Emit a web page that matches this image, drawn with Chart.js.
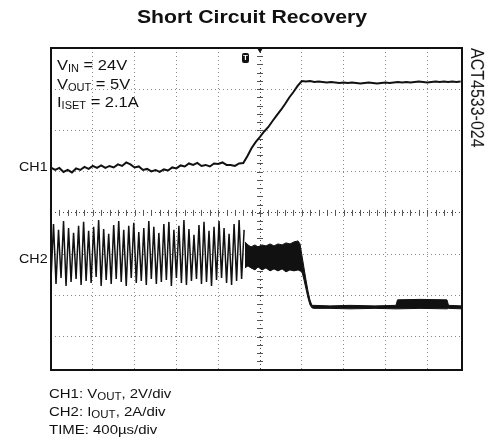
<!DOCTYPE html>
<html>
<head>
<meta charset="utf-8">
<script src="https://cdn.jsdelivr.net/npm/chart.js@4/dist/chart.umd.min.js"></script>
<style>
  html, body { margin: 0; padding: 0; background: #fff; }
  #wrap { position: relative; width: 492px; height: 443px; overflow: hidden; }
  #c { position: absolute; left: 0; top: 0; }
  .t { position: absolute; white-space: nowrap; font-family: "Liberation Sans", Arial, sans-serif; color: #111; transform-origin: 0 0; }
  .sub { font-size: 10px; position: relative; top: 2px; }
</style>
</head>
<body>
<div id="wrap">
  <canvas id="c" width="492" height="443"></canvas>
  <div class="t" style="left:6px;width:492px;text-align:center;top:8px;font-size:18px;line-height:18px;font-weight:bold;transform:scaleX(1.18);transform-origin:50% 0;">Short Circuit Recovery</div>
  <div class="t" style="left:57px;top:57px;font-size:15px;line-height:15px;transform:scaleX(1.1);">V<span class="sub">IN</span> = 24V</div>
  <div class="t" style="left:57px;top:75.5px;font-size:15px;line-height:15px;transform:scaleX(1.1);">V<span class="sub">OUT</span> = 5V</div>
  <div class="t" style="left:57px;top:94px;font-size:15px;line-height:15px;transform:scaleX(1.1);">I<span class="sub">ISET</span> = 2.1A</div>
  <div class="t" style="left:19px;top:160px;font-size:13px;line-height:13px;transform:scaleX(1.1);">CH1</div>
  <div class="t" style="left:19px;top:252px;font-size:13px;line-height:13px;transform:scaleX(1.1);">CH2</div>
  <div class="t" style="left:49px;top:387px;font-size:13px;line-height:13px;transform:scaleX(1.15);">CH1: V<span class="sub">OUT</span>, 2V/div</div>
  <div class="t" style="left:49px;top:405px;font-size:13px;line-height:13px;transform:scaleX(1.15);">CH2: I<span class="sub">OUT</span>, 2A/div</div>
  <div class="t" style="left:49px;top:423px;font-size:13px;line-height:13px;transform:scaleX(1.15);">TIME: 400µs/div</div>
  <div class="t" style="left:484.5px;top:48px;font-size:16px;line-height:16px;transform:rotate(90deg) scaleY(1.1);">ACT4533-024</div>
  <div class="t" style="left:242px;top:53px;width:7px;height:10px;background:#111;border-radius:2px;color:#fff;font-size:8px;line-height:10px;font-weight:bold;text-align:center;">T</div>
</div>
<script>
// time base (µs) and graticule
const xGridUs = [-1600, -1200, -800, -400, 0, 400, 800, 1200, 1600];
const yGridDiv = [-3, -2, -1, 0, 1, 2, 3];
const xMinUs = -2000, xMaxUs = 1933;
const yMinDiv = -3.81, yMaxDiv = 4;

// CH1: V_OUT (divisions), sampled every 40 µs from -2000 µs
const ch1Start = -2000, ch1Step = 40;
const ch1Div = [
  1.098, 1.042, 1.091, 0.994, 1.042, 0.982, 1.079, 1.042, 1.115, 1.067,
  1.139, 1.091, 1.152, 1.091, 1.139, 1.103, 1.176, 1.139, 1.224, 1.176,
  1.103, 1.127, 1.042, 1.067, 1.006, 1.042, 0.994, 1.055, 1.030, 1.103,
  1.079, 1.152, 1.127, 1.200, 1.164, 1.212, 1.139, 1.164, 1.127, 1.200,
  1.188, 1.224, 1.164, 1.164, 1.139, 1.200, 1.212,
  1.382, 1.576, 1.721, 1.842, 1.976, 2.085, 2.230, 2.364, 2.497, 2.642,
  2.800, 2.933, 3.079, 3.200,
  3.188, 3.200, 3.176, 3.188, 3.176, 3.164, 3.176, 3.164, 3.152, 3.164,
  3.152, 3.164, 3.152, 3.139, 3.152, 3.164, 3.152, 3.139, 3.152, 3.164,
  3.152, 3.164, 3.176, 3.164, 3.176, 3.164, 3.176, 3.188, 3.176, 3.164,
  3.176, 3.188, 3.176, 3.188, 3.176, 3.188, 3.176, 3.188
];

// CH2: I_OUT hiccup ripple (divisions), sampled every 24 µs from -2000 µs
const ch2Start = -2000, ch2Step = 24;
const ch2SawDiv = [
  -1.624, -0.267, -1.721, -0.412, -1.576, -0.194, -1.770, -0.364, -1.673, -0.485,
  -1.600, -0.315, -1.745, -0.218, -1.648, -0.436, -1.697, -0.339, -1.552, -0.170,
  -1.770, -0.388, -1.624, -0.509, -1.721, -0.291, -1.600, -0.194, -1.673, -0.412,
  -1.770, -0.315, -1.576, -0.242, -1.697, -0.461, -1.648, -0.364, -1.745, -0.194,
  -1.600, -0.339, -1.721, -0.485, -1.673, -0.267, -1.624, -0.218, -1.770, -0.412,
  -1.576, -0.315, -1.697, -0.170, -1.745, -0.388, -1.648, -0.533, -1.600, -0.291,
  -1.721, -0.218, -1.673, -0.436, -1.770, -0.339, -1.624, -0.194, -1.576, -0.364,
  -1.697, -0.509, -1.745, -0.267, -1.648, -0.170, -1.600, -0.412
];

// CH2 dense switching band: envelope (µs, divisions)
const ch2BandTime = [-144, -115, -86, -48, -19, 19, 57, 96, 134, 172,
  211, 249, 287, 325, 364, 383, 402, 421, 440, 459,
  478, 497, 517, 670, 861, 1100, 1301, 1316, 1531, 1789, 1804, 1933];
const ch2BandHigh = [-0.703, -0.776, -0.824, -0.776, -0.824, -0.776, -0.800, -0.752, -0.800, -0.752,
  -0.776, -0.727, -0.752, -0.703, -0.679, -0.752, -1.042, -1.333, -1.624, -1.891,
  -2.109, -2.242, -2.242, -2.255, -2.242, -2.255, -2.242, -2.109, -2.097, -2.109, -2.242, -2.255];
const ch2BandLow = [-1.333, -1.285, -1.333, -1.382, -1.309, -1.382, -1.333, -1.406, -1.358, -1.406,
  -1.358, -1.430, -1.382, -1.406, -1.382, -1.406, -1.430, -1.624, -1.842, -2.061,
  -2.230, -2.303, -2.315, -2.315, -2.327, -2.315, -2.327, -2.327, -2.315, -2.327, -2.315, -2.327];

const INK = '#111';

const ch1Points = ch1Div.map((v, i) => ({ x: ch1Start + i * ch1Step, y: v }));
const ch2SawPoints = ch2SawDiv.map((v, i) => ({ x: ch2Start + i * ch2Step, y: v }));
const ch2HighPoints = ch2BandTime.map((t, i) => ({ x: t, y: ch2BandHigh[i] }));
const ch2LowPoints = ch2BandTime.map((t, i) => ({ x: t, y: ch2BandLow[i] }));

const scopePlugin = {
  id: 'scope',
  beforeDatasetsDraw(chart) {
    const { ctx, scales: { x, y } } = chart;
    const cx = x.getPixelForValue(0), cy = y.getPixelForValue(0);
    ctx.save();
    ctx.strokeStyle = '#555';
    ctx.lineWidth = 1;
    // minor tick marks on the centre axes (0.2 div)
    for (let v = -3.8; v <= 4.001; v += 0.2) {
      const py = Math.round(y.getPixelForValue(v)) + 0.5;
      ctx.beginPath(); ctx.moveTo(cx - 3, py); ctx.lineTo(cx + 3, py); ctx.stroke();
    }
    for (let t = -2000; t <= 1933; t += 80) {
      const px = Math.round(x.getPixelForValue(t)) + 0.5;
      ctx.beginPath(); ctx.moveTo(px, cy - 3); ctx.lineTo(px, cy + 3); ctx.stroke();
    }
    ctx.restore();
  },
  afterDatasetsDraw(chart) {
    const { ctx, chartArea: a, scales: { x } } = chart;
    ctx.save();
    ctx.strokeStyle = INK;
    ctx.lineWidth = 2;
    ctx.strokeRect(a.left, a.top, a.right - a.left, a.bottom - a.top);
    // trigger position marker
    const cx = x.getPixelForValue(0);
    ctx.fillStyle = INK;
    ctx.beginPath();
    ctx.moveTo(cx - 3, a.top); ctx.lineTo(cx + 3, a.top); ctx.lineTo(cx, a.top + 5); ctx.closePath();
    ctx.fill();
    ctx.restore();
  }
};

new Chart(document.getElementById('c'), {
  type: 'line',
  data: {
    datasets: [
      { label: 'CH1 VOUT', data: ch1Points, borderColor: INK, borderWidth: 2, pointRadius: 0, fill: false, tension: 0 },
      { label: 'CH2 IOUT ripple', data: ch2SawPoints, borderColor: INK, borderWidth: 1.5, pointRadius: 0, fill: false, tension: 0 },
      { label: 'CH2 band high', data: ch2HighPoints, borderColor: INK, borderWidth: 1, pointRadius: 0, fill: '+1', backgroundColor: INK, tension: 0 },
      { label: 'CH2 band low', data: ch2LowPoints, borderColor: INK, borderWidth: 1, pointRadius: 0, fill: false, tension: 0 }
    ]
  },
  options: {
    responsive: false,
    animation: false,
    devicePixelRatio: 1,
    layout: { padding: { left: 51, top: 48, right: 30, bottom: 73 } },
    plugins: { legend: { display: false }, tooltip: { enabled: false }, title: { display: false } },
    scales: {
      x: {
        type: 'linear', min: xMinUs, max: xMaxUs,
        afterBuildTicks: s => { s.ticks = xGridUs.map(v => ({ value: v })); },
        ticks: { display: false },
        grid: { drawTicks: false, color: ctx => ctx.tick && ctx.tick.value === 0 ? '#444' : '#888', lineWidth: 1 },
        border: { display: false, dash: [1, 3] }
      },
      y: {
        type: 'linear', min: yMinDiv, max: yMaxDiv,
        afterBuildTicks: s => { s.ticks = yGridDiv.map(v => ({ value: v })); },
        ticks: { display: false },
        grid: { drawTicks: false, color: ctx => ctx.tick && ctx.tick.value === 0 ? '#444' : '#888', lineWidth: 1 },
        border: { display: false, dash: [1, 3] }
      }
    }
  },
  plugins: [scopePlugin]
});
</script>
</body>
</html>
